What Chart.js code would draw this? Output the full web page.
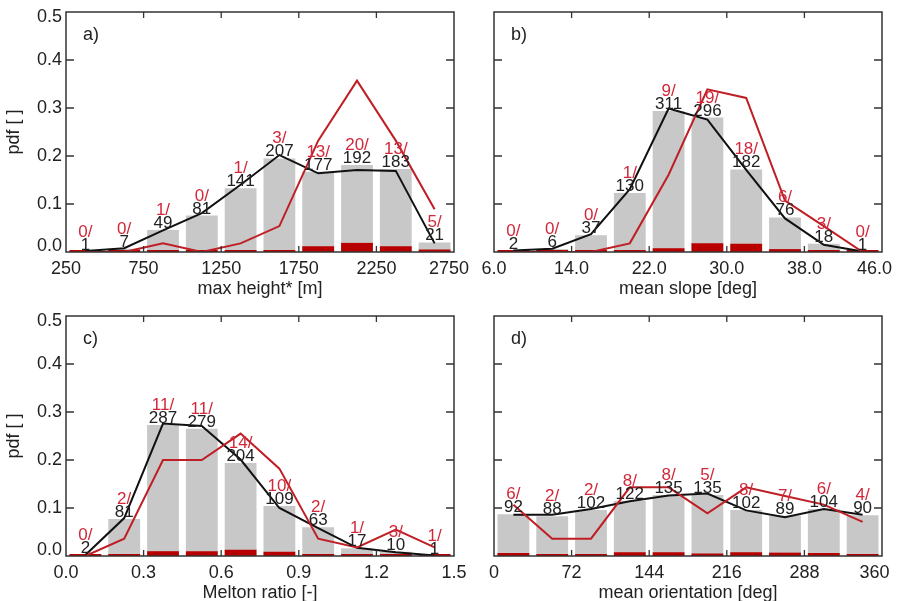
<!DOCTYPE html>
<html>
<head>
<meta charset="utf-8">
<script src="https://cdn.jsdelivr.net/npm/chart.js@4.4.1/dist/chart.umd.min.js"></script>
<style>
  html, body { margin: 0; padding: 0; background: #fff; overflow: hidden; }
  #wrap { position: relative; width: 897px; height: 601px; }
  #wrap canvas { position: absolute; }
</style>
</head>
<body>
<div id="wrap">
  <canvas id="panelA" width="478" height="300" style="left:0px;top:0px"></canvas>
  <canvas id="panelB" width="478" height="300" style="left:428px;top:0px"></canvas>
  <canvas id="panelC" width="478" height="300" style="left:0px;top:304px"></canvas>
  <canvas id="panelD" width="478" height="300" style="left:428px;top:304px"></canvas>
</div>
<script>
const yTicks = [0, 0.1, 0.2, 0.3, 0.4, 0.5];

// a) max height
const centersA = [375, 625, 875, 1125, 1375, 1625, 1875, 2125, 2375, 2625];
const ticksA = [250, 750, 1250, 1750, 2250, 2750];
const countsA = [1, 7, 49, 81, 141, 207, 177, 192, 183, 21];
const eventsA = [0, 0, 1, 0, 1, 3, 13, 20, 13, 5];
const pdfA = [0.001, 0.007, 0.046, 0.076, 0.133, 0.195, 0.167, 0.181, 0.173, 0.020];
const eventPdfA = [0, 0, 0.001, 0, 0.001, 0.003, 0.012, 0.019, 0.012, 0.005];
const curveA = [0.002, 0.008, 0.045, 0.081, 0.140, 0.202, 0.164, 0.171, 0.169, 0.018];
const eventCurveA = [0, 0, 0.018, 0, 0.018, 0.054, 0.232, 0.357, 0.232, 0.089];

// b) mean slope
const centersB = [8, 12, 16, 20, 24, 28, 32, 36, 40, 44];
const ticksB = [6, 14, 22, 30, 38, 46];
const countsB = [2, 6, 37, 130, 311, 296, 182, 76, 18, 1];
const eventsB = [0, 0, 0, 1, 9, 19, 18, 6, 3, 0];
const pdfB = [0.002, 0.006, 0.035, 0.123, 0.294, 0.280, 0.172, 0.072, 0.017, 0.001];
const eventPdfB = [0, 0, 0, 0.001, 0.008, 0.018, 0.017, 0.006, 0.003, 0];
const curveB = [0.003, 0.007, 0.037, 0.131, 0.299, 0.276, 0.171, 0.070, 0.015, 0.001];
const eventCurveB = [0, 0, 0, 0.018, 0.161, 0.339, 0.321, 0.107, 0.054, 0];

// c) Melton ratio
const centersC = [0.075, 0.225, 0.375, 0.525, 0.675, 0.825, 0.975, 1.125, 1.275, 1.425];
const ticksC = [0, 0.3, 0.6, 0.9, 1.2, 1.5];
const countsC = [2, 81, 287, 279, 204, 109, 63, 17, 10, 1];
const eventsC = [0, 2, 11, 11, 14, 10, 2, 1, 3, 1];
const pdfC = [0.002, 0.077, 0.273, 0.265, 0.194, 0.104, 0.060, 0.016, 0.009, 0.001];
const eventPdfC = [0, 0.002, 0.010, 0.010, 0.013, 0.009, 0.002, 0.001, 0.003, 0.001];
const curveC = [0.002, 0.079, 0.276, 0.271, 0.201, 0.100, 0.058, 0.017, 0.008, 0.001];
const eventCurveC = [0, 0.036, 0.200, 0.200, 0.255, 0.182, 0.036, 0.018, 0.055, 0.018];

// d) mean orientation
const centersD = [18, 54, 90, 126, 162, 198, 234, 270, 306, 342];
const ticksD = [0, 72, 144, 216, 288, 360];
const countsD = [92, 88, 102, 122, 135, 135, 102, 89, 104, 90];
const eventsD = [6, 2, 2, 8, 8, 5, 8, 7, 6, 4];
const pdfD = [0.087, 0.083, 0.096, 0.115, 0.127, 0.127, 0.096, 0.084, 0.098, 0.085];
const eventPdfD = [0.006, 0.002, 0.002, 0.008, 0.008, 0.005, 0.008, 0.007, 0.006, 0.004];
const curveD = [0.086, 0.086, 0.098, 0.114, 0.126, 0.130, 0.095, 0.081, 0.098, 0.086];
const eventCurveD = [0.107, 0.036, 0.036, 0.143, 0.143, 0.089, 0.143, 0.125, 0.107, 0.071];

const INK = '#222';
const GRAY = '#c8c8c8';
const RED_BAR = '#b80000';
const RED_LINE = '#bf1e24';
const RED_TEXT = '#d2283a';
const FONT = '"Liberation Sans", Arial, sans-serif';

Chart.defaults.color = INK;
Chart.defaults.font.family = FONT;

// box, inward ticks, y labels, counts and panel letter
function makeFrame(p) {
    return {
        id: 'frame',
        afterDatasetsDraw(chart) {
            const { ctx, chartArea: a, scales: { x, y } } = chart;
            ctx.save();

            ctx.textAlign = 'center';
            ctx.textBaseline = 'alphabetic';
            ctx.font = '17px ' + FONT;
            p.counts.forEach((n, i) => {
                const px = x.getPixelForValue(p.centers[i]);
                const top = y.getPixelForValue(p.pdf[i]);
                ctx.fillStyle = RED_TEXT;
                ctx.fillText(p.events[i] + '/', px, top - 15);
                ctx.fillStyle = INK;
                ctx.fillText(String(n), px, top - 2);
            });

            ctx.strokeStyle = '#333';
            ctx.lineWidth = 1.5;
            ctx.strokeRect(a.left, a.top, a.right - a.left, a.bottom - a.top);

            ctx.lineWidth = 1.3;
            ctx.beginPath();
            p.ticks.slice(1, -1).forEach(v => {
                const px = x.getPixelForValue(v);
                ctx.moveTo(px, a.top); ctx.lineTo(px, a.top + 6);
                ctx.moveTo(px, a.bottom); ctx.lineTo(px, a.bottom - 6);
            });
            yTicks.slice(1, -1).forEach(v => {
                const py = y.getPixelForValue(v);
                ctx.moveTo(a.left, py); ctx.lineTo(a.left + 8, py);
                ctx.moveTo(a.right, py); ctx.lineTo(a.right - 8, py);
            });
            ctx.stroke();

            if (p.showY) {
                ctx.fillStyle = INK;
                ctx.font = '18px ' + FONT;
                ctx.textAlign = 'right';
                ctx.textBaseline = 'middle';
                yTicks.forEach(v => {
                    const py = Math.min(Math.max(y.getPixelForValue(v), a.top + 5.5), a.bottom - 5.5);
                    ctx.fillText(v.toFixed(1), a.left - 4, py);
                });
            }

            ctx.fillStyle = INK;
            ctx.font = '18px ' + FONT;
            ctx.textAlign = 'left';
            ctx.textBaseline = 'alphabetic';
            ctx.fillText(p.letter, a.left + 17, a.top + 28);
            ctx.restore();
        }
    };
}

function makePanel(id, p) {
    const xy = vals => vals.map((v, i) => ({ x: p.centers[i], y: v }));
    const barOpts = { grouped: false, barPercentage: 0.82, categoryPercentage: 1, borderWidth: 0 };
    const last = p.ticks[p.ticks.length - 1];
    return new Chart(document.getElementById(id), {
        type: 'bar',
        data: {
            datasets: [
                { type: 'line', data: xy(p.eventCurve), borderColor: RED_LINE, borderWidth: 2, pointRadius: 0, tension: 0, order: 0 },
                { type: 'line', data: xy(p.curve), borderColor: '#111', borderWidth: 2, pointRadius: 0, tension: 0, order: 1 },
                { ...barOpts, data: xy(p.eventPdf), backgroundColor: RED_BAR, minBarLength: 2, order: 2 },
                { ...barOpts, data: xy(p.pdf), backgroundColor: GRAY, order: 3 }
            ]
        },
        options: {
            responsive: false,
            animation: false,
            events: [],
            layout: { padding: { top: 12, right: 24, bottom: 0, left: 0 } },
            plugins: { legend: { display: false }, tooltip: { enabled: false } },
            scales: {
                x: {
                    type: 'linear',
                    min: p.ticks[0], max: last,
                    offset: false,
                    grid: { display: false, drawTicks: false, offset: false },
                    border: { display: false },
                    afterBuildTicks: s => { s.ticks = p.ticks.map(v => ({ value: v })); },
                    // fixed axis band; labels may overhang without squeezing the plot
                    afterFit: s => { s.height = 48; s.paddingLeft = 0; s.paddingRight = 0; },
                    ticks: {
                        autoSkip: false, maxRotation: 0, padding: 6,
                        color: INK, font: { size: 18 },
                        // last label sits a little left of its tick, as in the original
                        callback: v => v.toFixed(p.digits) + (v === last ? ' '.repeat(p.shiftLast) : '')
                    },
                    title: { display: true, text: p.xTitle, color: INK, font: { size: 18 }, padding: { top: 0, bottom: 0 } }
                },
                y: {
                    min: 0, max: 0.5,
                    grid: { display: false, drawTicks: false },
                    border: { display: false },
                    afterBuildTicks: s => { s.ticks = yTicks.map(v => ({ value: v })); },
                    afterFit: s => { s.width = 66; },
                    ticks: { display: false },
                    title: { display: p.showY, text: 'pdf [ ]', color: INK, font: { size: 18 }, padding: { top: 3, bottom: 0 } }
                }
            }
        },
        plugins: [makeFrame(p)]
    });
}

document.addEventListener('DOMContentLoaded', () => {
    makePanel('panelA', {
        letter: 'a)', xTitle: 'max height* [m]', showY: true, digits: 0, shiftLast: 2,
        centers: centersA, ticks: ticksA, counts: countsA, events: eventsA,
        pdf: pdfA, eventPdf: eventPdfA, curve: curveA, eventCurve: eventCurveA
    });
    makePanel('panelB', {
        letter: 'b)', xTitle: 'mean slope [deg]', showY: false, digits: 1, shiftLast: 3,
        centers: centersB, ticks: ticksB, counts: countsB, events: eventsB,
        pdf: pdfB, eventPdf: eventPdfB, curve: curveB, eventCurve: eventCurveB
    });
    makePanel('panelC', {
        letter: 'c)', xTitle: 'Melton ratio [-]', showY: true, digits: 1, shiftLast: 0,
        centers: centersC, ticks: ticksC, counts: countsC, events: eventsC,
        pdf: pdfC, eventPdf: eventPdfC, curve: curveC, eventCurve: eventCurveC
    });
    makePanel('panelD', {
        letter: 'd)', xTitle: 'mean orientation [deg]', showY: false, digits: 0, shiftLast: 3,
        centers: centersD, ticks: ticksD, counts: countsD, events: eventsD,
        pdf: pdfD, eventPdf: eventPdfD, curve: curveD, eventCurve: eventCurveD
    });
});
</script>
</body>
</html>
